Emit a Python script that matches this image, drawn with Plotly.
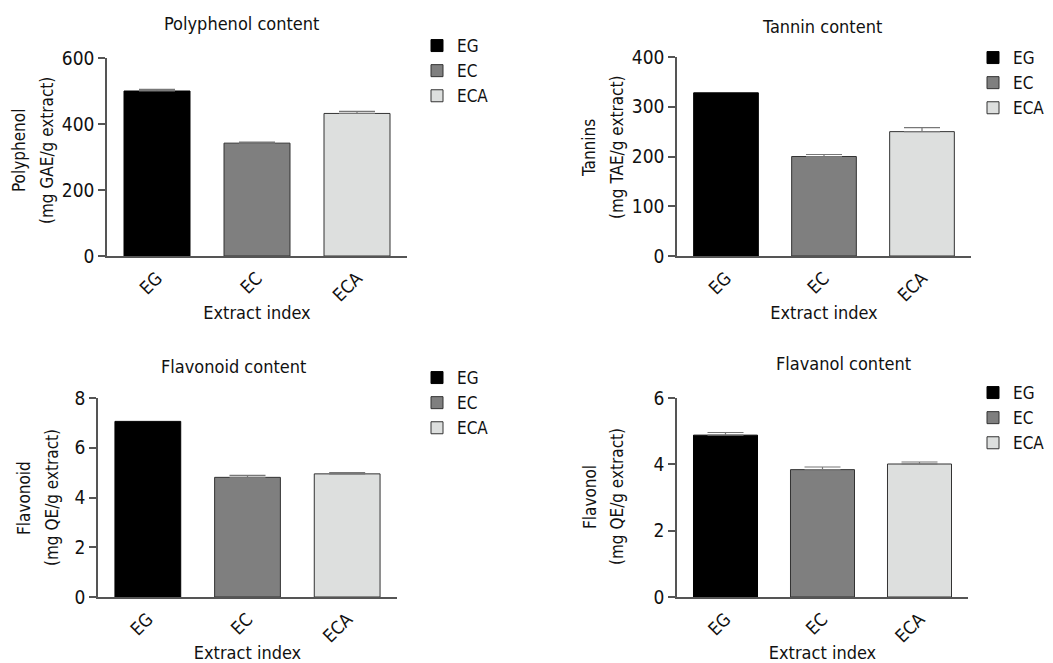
import plotly.graph_objects as go

categories = ["EG", "EC", "ECA"]
bar_colors = ["#000000", "#7f7f7f", "#dddfde"]

titles = ["Polyphenol content", "Tannin content", "Flavonoid content", "Flavanol content"]
ytitle_line1 = ["Polyphenol", "Tannins", "Flavonoid", "Flavonol"]
ytitle_line2 = ["(mg GAE/g extract)", "(mg TAE/g extract)", "(mg QE/g extract)", "(mg QE/g extract)"]
xtitle = "Extract index"

polyphenol = [500, 342, 432]
polyphenol_err = [5, 3, 6]
tannin = [328, 200, 250]
tannin_err = [0, 4, 8]
flavonoid = [7.06, 4.81, 4.95]
flavonoid_err = [0, 0.08, 0.05]
flavanol = [4.88, 3.84, 4.01]
flavanol_err = [0.08, 0.08, 0.06]

yranges = [[0, 600], [0, 400], [0, 8], [0, 6]]
ydticks = [200, 100, 2, 2]

values = [polyphenol, tannin, flavonoid, flavanol]
errors = [polyphenol_err, tannin_err, flavonoid_err, flavanol_err]

# the page places the figure 8 px in from the top-left corner
OFF = 8
W, H = 1053 - OFF, 663 - OFF
FONT = "DejaVu Sans Condensed, DejaVu Sans, sans-serif"
TXT = "#111111"


def px(x):
    return (x - OFF) / W


def py(y):
    return 1 - (y - OFF) / H


# plot-area pixel boxes in the target picture (left, right, top, bottom)
boxes = [(107, 407, 58, 256), (677, 971, 57, 256), (98, 397, 398, 597), (677, 968, 398, 597)]
legend_pos = [(417, 28), (973, 40), (417, 360), (973, 375)]
title_pos = [(241, 24), (822, 27), (233, 366), (843, 363)]
ytitle_pos = [((19, 47), 151), ((589, 617), 148), ((24, 52), 498), ((590, 617), 497)]
xtitle_standoff = [2, 2, 5, 5]

fig = go.Figure()
layout = {}
for p in range(4):
    xa = "x" if p == 0 else f"x{p+1}"
    ya = "y" if p == 0 else f"y{p+1}"
    lg = "legend" if p == 0 else f"legend{p+1}"
    for i, cat in enumerate(categories):
        err = errors[p][i]
        fig.add_trace(go.Bar(
            x=[cat], y=[values[p][i]], name=cat,
            marker=dict(color=bar_colors[i], line=dict(color="#333333" if i else "#000000", width=1)),
            error_y=dict(type="data", symmetric=False, array=[err], arrayminus=[0],
                         color="#777777", thickness=1.2, width=18, visible=err > 0),
            width=0.66, xaxis=xa, yaxis=ya, legend=lg, showlegend=True,
        ))
    l, r, t, b = boxes[p]
    xkey = "xaxis" if p == 0 else f"xaxis{p+1}"
    ykey = "yaxis" if p == 0 else f"yaxis{p+1}"
    layout[xkey] = dict(
        domain=[px(l), px(r)], anchor=ya, categoryorder="array", categoryarray=categories,
        range=[-0.5, 2.5], showline=True, linecolor="#555555", linewidth=1.5,
        ticks="", tickangle=-45, ticklabelstandoff=3,
        tickfont=dict(size=18, color=TXT, family=FONT),
        showgrid=False, zeroline=False, automargin=False,
        title=dict(text=xtitle, font=dict(size=18, color=TXT, family=FONT),
                   standoff=xtitle_standoff[p]),
    )
    layout[ykey] = dict(
        domain=[py(b), py(t)], anchor=xa, range=yranges[p], dtick=ydticks[p], tick0=0,
        showline=True, linecolor="#555555", linewidth=1.5, ticks="outside", ticklen=7,
        tickcolor="#555555", tickwidth=1.5, automargin=False,
        tickfont=dict(size=19, color=TXT, family=FONT), showgrid=False, zeroline=False,
    )
    lx, ly = legend_pos[p]
    layout[lg] = dict(x=px(lx), y=py(ly), xanchor="left", yanchor="top",
                      font=dict(size=17, color=TXT, family=FONT),
                      itemwidth=30, tracegroupgap=0, bgcolor="rgba(0,0,0,0)")

annotations = []
for p in range(4):
    tx, ty = title_pos[p]
    annotations.append(dict(text=titles[p], x=px(tx), y=py(ty), xref="paper", yref="paper",
                            xanchor="center", yanchor="middle", showarrow=False,
                            font=dict(size=18, color=TXT, family=FONT)))
    (x1, x2), yc = ytitle_pos[p]
    for txt, xx in ((ytitle_line1[p], x1), (ytitle_line2[p], x2)):
        annotations.append(dict(text=txt, x=px(xx), y=py(yc), xref="paper", yref="paper",
                                xanchor="center", yanchor="middle", showarrow=False, textangle=-90,
                                font=dict(size=17, color=TXT, family=FONT)))

fig.update_layout(
    template="none",
    width=W, height=H, margin=dict(l=0, r=0, t=0, b=0, autoexpand=False),
    paper_bgcolor="white", plot_bgcolor="white",
    font=dict(family=FONT, color=TXT),
    annotations=annotations, **layout,
)
fig.write_html("out.html")
